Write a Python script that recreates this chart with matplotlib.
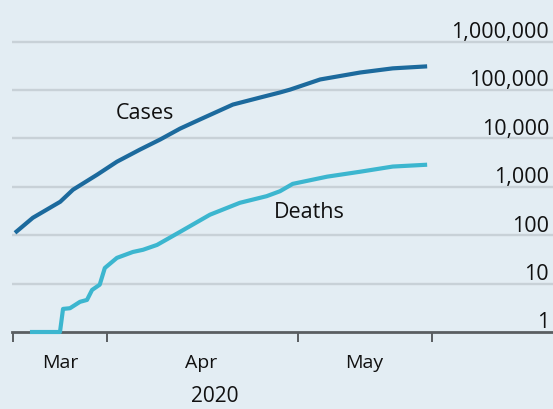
import matplotlib
matplotlib.use("Agg")
import matplotlib.pyplot as plt
import matplotlib.transforms as mtransforms

plt.rcParams['font.family'] = ['Open Sans', 'DejaVu Sans']

# Days since start of series (approx. 17 March 2020)
case_days = [0, 2.8, 7.1, 9.1, 12.9, 16.0, 19.6, 22.8, 25.9, 29.0, 34.2, 38.5,
             41.6, 43.2, 47.9, 54.2, 59.3, 64.7]
cases = [112, 229, 491, 870, 1780, 3300, 5860, 9500, 15900, 24500, 50000,
         70000, 89000, 102000, 165000, 230000, 280000, 308000]

death_days = [2.35, 7.06, 7.54, 8.63, 10.2, 11.3, 12.1, 13.3, 14.1, 16.0, 18.5,
              20.1, 22.3, 25.9, 30.6, 35.3, 39.5, 41.6, 43.6, 49.0, 54.2, 59.3,
              64.7]
deaths = [1, 1, 3, 3.1, 4.2, 4.6, 7.4, 9.5, 21, 34, 45, 50, 63, 117, 265, 467,
          640, 810, 1150, 1620, 2050, 2620, 2860]

y_ticks = [1, 10, 100, 1000, 10000, 100000, 1000000]
y_labels = ["1", "10", "100", "1,000", "10,000", "100,000", "1,000,000"]

x_ticks = [-0.36, 14.49, 44.47, 65.4]
month_pos = [7.06, 29.2, 54.8]
month_labels = ["Mar", "Apr", "May"]
year_label = "2020"

W, H = 553, 410
fig = plt.figure(figsize=(W / 100, H / 100), dpi=100)
bg = "#e3edf3"
fig.patch.set_facecolor(bg)

left_px, right_px = 12, 553
bottom_px, top_px = 333, 10
ax = fig.add_axes([left_px / W, 1 - bottom_px / H, (right_px - left_px) / W,
                   (bottom_px - top_px) / H])
ax.set_facecolor(bg)
ax.set_yscale('log')
ppd = 48.4
ax.set_ylim(1, 10 ** ((bottom_px - top_px) / ppd))
pxday = 6.37
x0 = 15
ax.set_xlim((left_px - x0) / pxday, (right_px - x0) / pxday)

for v in y_ticks[1:]:
    ax.axhline(v, color="#c8d1d7", lw=1.7, zorder=1)

ax.plot(case_days, cases, color="#1c6a9d", lw=3.0, solid_capstyle='butt',
        solid_joinstyle='round', zorder=4, clip_on=False)
ax.plot(death_days, deaths, color="#3cb6cf", lw=3.0, solid_capstyle='butt',
        solid_joinstyle='round', zorder=4, clip_on=False)

for s in ['top', 'right', 'left']:
    ax.spines[s].set_visible(False)
ax.spines['bottom'].set_color("#5a5e61")
ax.spines['bottom'].set_linewidth(2)
ax.spines['bottom'].set_zorder(3)
ax.set_yticks([])
ax.yaxis.set_minor_locator(matplotlib.ticker.NullLocator())
ax.set_xticks(x_ticks)
ax.set_xticklabels([])
ax.tick_params(axis='x', length=7, width=1.4, color="#5a5e61", direction='out')

# right-aligned y labels sitting above gridlines
trans_y = mtransforms.blended_transform_factory(fig.transFigure, ax.transData)
t_lab = mtransforms.offset_copy(trans_y, fig=fig, x=0, y=3.3, units='points')
for v, lab in zip(y_ticks, y_labels):
    ax.text(549 / W, v, lab, transform=t_lab, ha='right', va='baseline',
            fontsize=15.5, color="#111111", clip_on=False)

trans_x = mtransforms.blended_transform_factory(ax.transData, fig.transFigure)
for p, lab in zip(month_pos, month_labels):
    ax.text(p, 1 - 363 / H, lab, transform=trans_x, ha='center', va='center',
            fontsize=14, color="#111111", clip_on=False)
ax.text(31.4, 1 - 397 / H, year_label, transform=trans_x, ha='center', va='center',
        fontsize=15, color="#111111", clip_on=False)

ax.text((144.5 - x0) / pxday, 10 ** ((bottom_px - 114) / ppd), "Cases",
        ha='center', va='center', fontsize=15.5, color="#111111")
ax.text((309 - x0) / pxday, 10 ** ((bottom_px - 213) / ppd), "Deaths",
        ha='center', va='center', fontsize=15.5, color="#111111")

fig.savefig("out.png", dpi=100, facecolor=bg)
